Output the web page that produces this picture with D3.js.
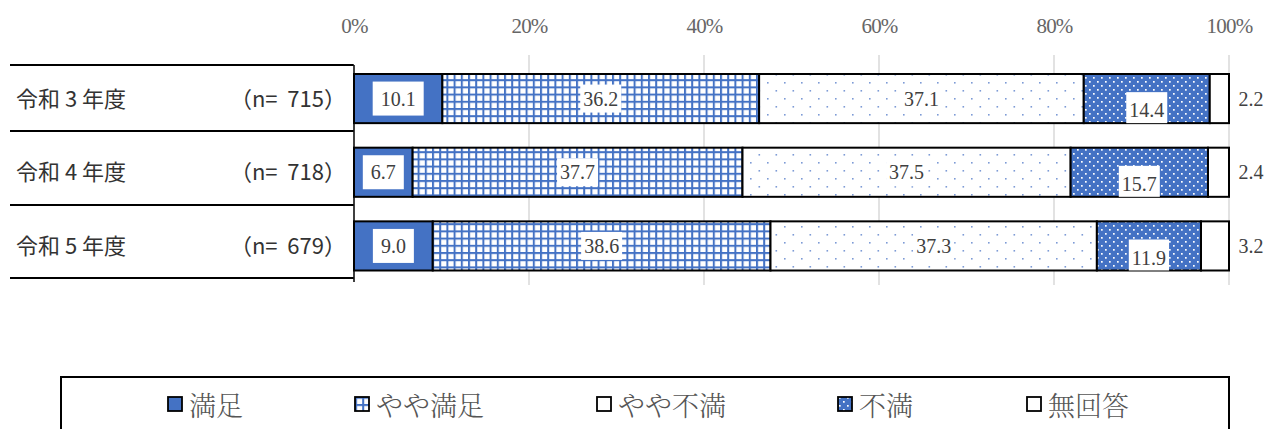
<!DOCTYPE html>
<html>
<head>
<meta charset="utf-8">
<script src="https://cdn.jsdelivr.net/npm/d3@7"></script>
<style>
  body { margin: 0; background: #fff; }
  svg { display: block; }
  text { white-space: pre; }
</style>
</head>
<body>
<svg id="svg" width="1269" height="429"></svg>
<script>
// data
const years = ["令和 3 年度", "令和 4 年度", "令和 5 年度"];
const counts = ["715", "718", "679"];
const categories = ["満足", "やや満足", "やや不満", "不満", "無回答"];
const satisfied = [10.1, 6.7, 9.0];
const somewhatSatisfied = [36.2, 37.7, 38.6];
const somewhatDissatisfied = [37.1, 37.5, 37.3];
const dissatisfied = [14.4, 15.7, 11.9];
const noAnswer = [2.2, 2.4, 3.2];
const tickValues = [0, 20, 40, 60, 80, 100];

const series = [satisfied, somewhatSatisfied, somewhatDissatisfied, dissatisfied, noAnswer];
const blue = "#4472C4";

const svg = d3.select("#svg");

// patterns
const defs = svg.append("defs");
const grid = defs.append("pattern").attr("id", "p1")
  .attr("patternUnits", "userSpaceOnUse").attr("width", 7.2).attr("height", 7.2);
grid.append("rect").attr("width", 7.2).attr("height", 7.2).attr("fill", "#fff");
grid.append("rect").attr("width", 2).attr("height", 7.2).attr("fill", blue);
grid.append("rect").attr("width", 7.2).attr("height", 2).attr("fill", blue);

const dots = defs.append("pattern").attr("id", "p2")
  .attr("patternUnits", "userSpaceOnUse").attr("width", 17).attr("height", 16);
dots.append("rect").attr("width", 17).attr("height", 16).attr("fill", "#fff");
dots.append("rect").attr("x", 2).attr("y", 2).attr("width", 1.6).attr("height", 1.6).attr("fill", "#7d9bd6");
dots.append("rect").attr("x", 10.5).attr("y", 10).attr("width", 1.6).attr("height", 1.6).attr("fill", "#7d9bd6");

const wdots = defs.append("pattern").attr("id", "p3")
  .attr("patternUnits", "userSpaceOnUse").attr("width", 8).attr("height", 8);
wdots.append("rect").attr("width", 8).attr("height", 8).attr("fill", blue);
wdots.append("rect").attr("x", 1).attr("y", 1).attr("width", 1.7).attr("height", 1.7).attr("fill", "#fff");
wdots.append("rect").attr("x", 5).attr("y", 5).attr("width", 1.7).attr("height", 1.7).attr("fill", "#fff");

const fills = [blue, "url(#p1)", "url(#p2)", "url(#p3)", "#fff"];

const x = d3.scaleLinear().domain([0, 100]).range([354, 1229]);
const y = d3.scaleBand().domain(years).range([74, 270.5]).paddingInner(0.333).paddingOuter(0);

// grid lines
svg.append("g").selectAll("line").data(tickValues.slice(1)).join("line")
  .attr("x1", d => x(d)).attr("x2", d => x(d))
  .attr("y1", 55).attr("y2", 285)
  .attr("stroke", "#d9d9d9").attr("stroke-width", 1.5);

// top axis
const axis = d3.axisTop(x).tickValues(tickValues).tickFormat(d => d + "%").tickSize(0);
const ax = svg.append("g").attr("transform", "translate(0,36)").call(axis);
ax.select(".domain").remove();
ax.selectAll("text").attr("font-family", "'Liberation Serif', serif")
  .attr("font-size", 21).attr("fill", "#666").attr("dy", 0)
  .style("letter-spacing", "-0.8px");

// left table lines
const bounds = [65, 131, 205, 278];
svg.append("g").selectAll("line").data(bounds).join("line")
  .attr("x1", 10).attr("x2", 353)
  .attr("y1", d => d).attr("y2", d => d)
  .attr("stroke", "#000").attr("stroke-width", 2);
svg.append("line").attr("x1", 354).attr("x2", 354).attr("y1", 65).attr("y2", 282)
  .attr("stroke", "#000").attr("stroke-width", 1.5);
svg.append("g").selectAll("line").data(bounds).join("line")
  .attr("x1", 348).attr("x2", 354)
  .attr("y1", d => d).attr("y2", d => d)
  .attr("stroke", "#000").attr("stroke-width", 1.5);

const cjk = "'Noto Sans CJK JP', sans-serif";
svg.append("g").selectAll("text").data(years).join("text")
  .attr("x", 16).attr("y", d => y(d) + y.bandwidth() / 2 - 2)
  .attr("dominant-baseline", "central")
  .attr("font-family", cjk).attr("font-size", 22).attr("fill", "#333")
  .text(d => d);
svg.append("g").selectAll("text").data(counts).join("text")
  .attr("x", 346).attr("y", (d, i) => y(years[i]) + y.bandwidth() / 2 - 2)
  .attr("dominant-baseline", "central").attr("text-anchor", "end")
  .attr("font-family", cjk).attr("font-size", 22).attr("fill", "#333")
  .text(d => "（n=  " + d + "）");

// stacked segments
const rows = years.map((yr, i) => {
  let acc = 0;
  return series.map((s, k) => {
    const seg = { year: yr, k: k, v: s[i], x0: acc, x1: acc + s[i] };
    acc += s[i];
    return seg;
  });
});
const segs = rows.flat();

svg.append("g").selectAll("rect").data(segs).join("rect")
  .attr("x", d => x(d.x0)).attr("width", d => x(d.x1) - x(d.x0))
  .attr("y", d => y(d.year)).attr("height", y.bandwidth())
  .attr("fill", d => fills[d.k])
  .attr("stroke", "#000").attr("stroke-width", 2);

// labels
const lab = svg.append("g");
segs.forEach(d => {
  const txt = d.v.toFixed(1);
  let cx = (x(d.x0) + x(d.x1)) / 2;
  let cy = y(d.year) + y.bandwidth() / 2;
  if (d.k === 3) cy = y(d.year) + y.bandwidth() - 13;
  if (d.k === 4) cx = x(100) + 22;
  const t = lab.append("text").attr("x", cx).attr("y", cy)
    .attr("text-anchor", "middle").attr("dominant-baseline", "central")
    .attr("font-family", "'Liberation Serif', serif").attr("font-size", 20)
    .attr("fill", "#404040").text(txt);
  if (d.k !== 4) {
    const b = t.node().getBBox();
    const padX = d.k === 0 ? 8 : 3, padY = d.k === 0 ? 6 : 3;
    let bh = b.height + padY * 2;
    let by = b.y - padY;
    if (d.k === 3) { by = cy - 18; bh = y(d.year) + y.bandwidth() - by; }
    lab.insert("rect", "text:last-child")
      .attr("x", b.x - padX).attr("y", by)
      .attr("width", b.width + padX * 2).attr("height", bh)
      .attr("fill", "#fff");
    t.raise();
  }
});

// legend
svg.append("rect").attr("x", 61).attr("y", 377).attr("width", 1168).attr("height", 70)
  .attr("fill", "#fff").attr("stroke", "#000").attr("stroke-width", 2);
const legX = [168, 355, 597, 838, 1027];
const leg = svg.append("g").selectAll("g").data(categories).join("g")
  .attr("transform", (d, i) => `translate(${legX[i]},404)`);
leg.append("rect").attr("x", 0).attr("y", -7).attr("width", 14).attr("height", 14)
  .attr("fill", (d, i) => i === 2 ? "#fff" : fills[i])
  .attr("stroke", "#000").attr("stroke-width", 1.8);
leg.append("text").attr("x", 21).attr("y", 0).attr("dominant-baseline", "central")
  .attr("font-family", "'Noto Serif CJK JP', 'Noto Sans CJK JP', serif")
  .attr("font-size", 27).attr("font-weight", 300).attr("fill", "#555").text(d => d);
</script>
</body>
</html>
